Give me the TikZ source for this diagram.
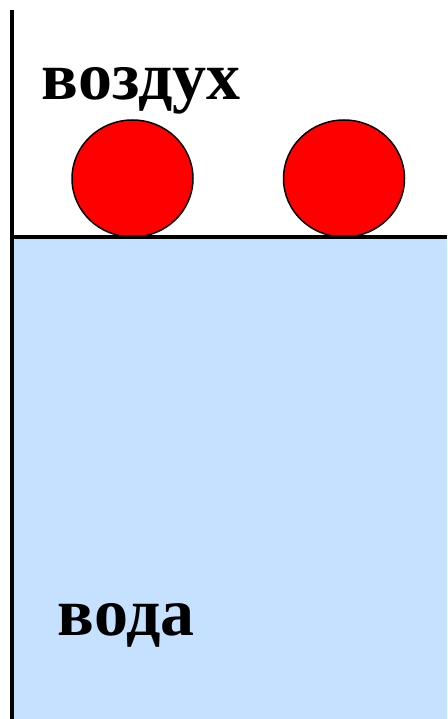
\documentclass[tikz,border=0pt]{standalone}
\usepackage{fontspec}
\setmainfont{Liberation Serif}
\usetikzlibrary{shapes.geometric}
\definecolor{waterblue}{RGB}{198,224,255}
\definecolor{ballred}{RGB}{255,0,0}
\tikzset{
    ball/.style={draw, ellipse, fill=ballred, line width=1.5pt, minimum width=121pt, minimum height=117pt, inner sep=0pt},
    label/.style={inner sep=0pt, anchor=base west, font=\fontsize{68}{82}\selectfont\bfseries},
    wall/.style={line width=4pt}
}
\begin{document}
\begin{tikzpicture}[x=1pt, y=-1pt]
    \useasboundingbox (0,0) rectangle (447,719);
    \fill[waterblue] (12,237) rectangle (447,719);

    \node[label] (air) at (41.5,100) {воздух};
    \node[label] (water) at (57.5,635) {вода};

    \node[ball] (ball1) at (132.5,178.5) {};
    \node[ball] (ball2) at (344,178.5) {};

    \draw[wall] (12,237) -- (447,237);
    \draw[wall] (12,10) -- (12,719);
\end{tikzpicture}
\end{document}
